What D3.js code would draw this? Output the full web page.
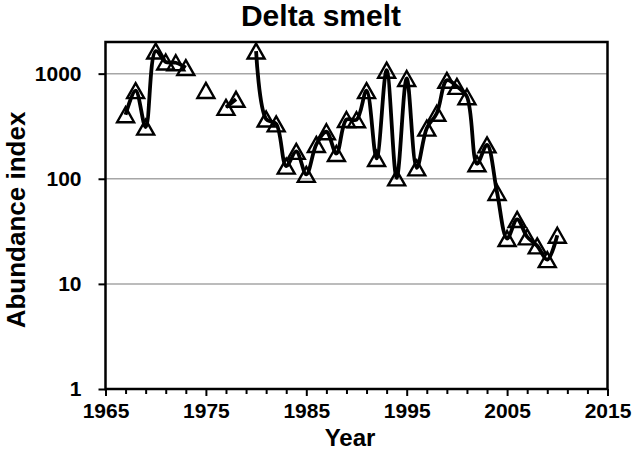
<!DOCTYPE html>
<html>
<head>
<meta charset="utf-8">
<script src="https://cdn.jsdelivr.net/npm/d3@7"></script>
<style>
  body { margin: 0; background: #fff; }
  text { font-family: "Liberation Sans", Arial, sans-serif; font-weight: bold; fill: #000; }
</style>
</head>
<body>
<div id="chart"></div>
<script>
// fall abundance index, null = no survey that year
const years = d3.range(1967, 2011);
const abundance = [
  407, 690, 310, 1640, 1290, 1270, 1140, null, 692, null,
  478, 570, null, 1640, 370, 333, 132, 182, 110, 212,
  280, 174, 366, 364, 689, 156, 1078, 102, 899, 127,
  303, 420, 864, 756, 603, 139, 210, 74, 27, 41,
  28, 23, 17, 29
];
const yTicks = [1, 10, 100, 1000];
const gridValues = [10, 100, 1000];
const xLabelYears = [1965, 1975, 1985, 1995, 2005, 2015];

const margin = { top: 42, right: 25.5, bottom: 64, left: 105.5 };
const outerWidth = 633;
const outerHeight = 453;
const innerWidth = outerWidth - margin.left - margin.right;
const innerHeight = outerHeight - margin.top - margin.bottom;

const data = years.map(function(d, i) {
  return { year: d, value: abundance[i] };
});

const svg = d3
  .select("#chart")
  .append("svg")
  .attr("width", outerWidth)
  .attr("height", outerHeight);

const g = svg
  .append("g")
  .attr("transform", "translate(" + margin.left + "," + margin.top + ")");

const xScale = d3.scaleLinear().domain([1965, 2015]).range([0, innerWidth]);
const yScale = d3.scaleLog().domain([1, 2000]).range([innerHeight, 0]);

// gridlines
g.selectAll(".grid")
  .data(gridValues)
  .enter()
  .append("line")
  .attr("class", "grid")
  .attr("x1", 0)
  .attr("x2", innerWidth)
  .attr("y1", function(d) { return yScale(d); })
  .attr("y2", function(d) { return yScale(d); })
  .attr("stroke", "#a6a6a6")
  .attr("stroke-width", 1.5);

const xAxis = d3
  .axisBottom(xScale)
  .tickValues(d3.range(1965, 2016, 2))
  .tickSize(5)
  .tickPadding(9)
  .tickFormat(function(d) {
    return xLabelYears.indexOf(d) >= 0 ? d : "";
  });

const xAxisGroup = g
  .append("g")
  .attr("class", "x axis")
  .attr("transform", "translate(0," + innerHeight + ")")
  .call(xAxis);

xAxisGroup.select(".domain").remove();
xAxisGroup.selectAll(".tick line")
  .attr("stroke", "#000")
  .attr("stroke-width", 2)
  .attr("y2", function(d) { return xLabelYears.indexOf(d) >= 0 ? 7 : 5; });
xAxisGroup.selectAll(".tick text")
  .filter(function(d) { return xLabelYears.indexOf(d) < 0; })
  .remove();
xAxisGroup.selectAll(".tick text").style("font-size", "21px");

const yAxis = d3.axisLeft(yScale).tickValues(yTicks).tickSize(7).tickPadding(17)
  .tickFormat(d3.format("d"));

const yAxisGroup = g.append("g").attr("class", "y axis").call(yAxis);

yAxisGroup.select(".domain").remove();
yAxisGroup.selectAll(".tick line").attr("stroke", "#000").attr("stroke-width", 2);
yAxisGroup.selectAll(".tick text").style("font-size", "21px");

// plot frame
g.append("rect")
  .attr("x", 0)
  .attr("y", 0)
  .attr("width", innerWidth)
  .attr("height", innerHeight)
  .attr("fill", "none")
  .attr("stroke", "#000")
  .attr("stroke-width", 2.5);

const lineGenerator = d3
  .line()
  .defined(function(d) { return d.value !== null; })
  .x(function(d) { return xScale(d.year); })
  .y(function(d) { return yScale(d.value); })
  .curve(d3.curveCatmullRom);

g.append("path")
  .attr("d", lineGenerator(data))
  .attr("fill", "none")
  .attr("stroke", "#000")
  .attr("stroke-width", 3.8)
  .attr("stroke-linejoin", "round");

// open triangle markers, box centred on the point
const triW = 17;
const triH = 15;
const triPath = "M0," + (-triH / 2) + "L" + (triW / 2) + "," + (triH / 2) +
  "L" + (-triW / 2) + "," + (triH / 2) + "Z";

g.selectAll(".marker")
  .data(data.filter(function(d) { return d.value !== null; }))
  .enter()
  .append("path")
  .attr("class", "marker")
  .attr("d", triPath)
  .attr("transform", function(d) {
    return "translate(" + xScale(d.year) + "," + yScale(d.value) + ")";
  })
  .attr("fill", "none")
  .attr("stroke", "#000")
  .attr("stroke-width", 2.4);

// titles
svg.append("text")
  .attr("x", 321)
  .attr("y", 26)
  .attr("text-anchor", "middle")
  .style("font-size", "30px")
  .text("Delta smelt");

svg.append("text")
  .attr("x", 350)
  .attr("y", 446)
  .attr("text-anchor", "middle")
  .style("font-size", "24px")
  .text("Year");

svg.append("text")
  .attr("transform", "translate(25,220) rotate(-90)")
  .attr("text-anchor", "middle")
  .style("font-size", "26px")
  .text("Abundance index");
</script>
</body>
</html>
